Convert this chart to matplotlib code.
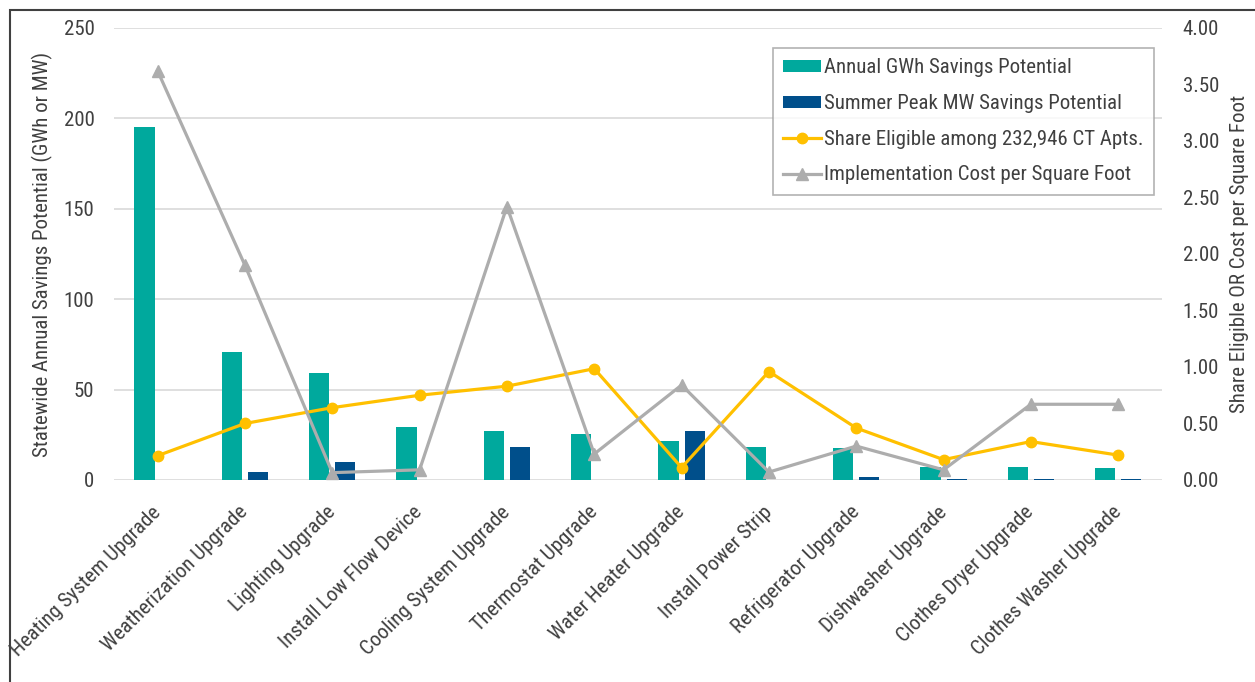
import numpy as np
import matplotlib
matplotlib.use("Agg")
import matplotlib.pyplot as plt
from matplotlib.patches import Rectangle

plt.rcParams['font.family'] = ['Roboto Condensed', 'Liberation Sans', 'DejaVu Sans']

# Measures and their savings / eligibility / cost figures
measures = ["Heating System Upgrade", "Weatherization Upgrade", "Lighting Upgrade",
            "Install Low Flow Device", "Cooling System Upgrade", "Thermostat Upgrade",
            "Water Heater Upgrade", "Install Power Strip", "Refrigerator Upgrade",
            "Dishwasher Upgrade", "Clothes Dryer Upgrade", "Clothes Washer Upgrade"]
annual_gwh = [195, 71, 59, 29.5, 27, 25.5, 21.7, 18, 17.5, 7.3, 7.4, 6.5]
summer_mw = [0, 4.3, 10, 0, 18, 0, 27, 0, 1.8, 0.3, 0.3, 0.3]
share_eligible = [0.215, 0.50, 0.64, 0.75, 0.83, 0.985, 0.11, 0.96, 0.46, 0.18, 0.34, 0.22]
cost_per_sqft = [3.62, 1.90, 0.065, 0.09, 2.42, 0.23, 0.84, 0.07, 0.30, 0.09, 0.67, 0.67]

teal = "#00A99D"
navy = "#004F8B"
gold = "#FFC000"
grey = "#ADADAD"
text_col = "#404040"

fig = plt.figure(figsize=(12.55, 6.82), dpi=100)
ax = fig.add_axes([0.0908, 0.2962, 0.835, 0.6628])
ax2 = ax.twinx()

x = np.arange(len(measures))
w = 0.23
ax.bar(x - 0.035 - w / 2, annual_gwh, w, color=teal, label="Annual GWh Savings Potential", zorder=2)
ax.bar(x + 0.035 + w / 2, summer_mw, w, color=navy, label="Summer Peak MW Savings Potential", zorder=2)

ax2.plot(x, share_eligible, color=gold, lw=2.3, marker="o", ms=7.5,
         label="Share Eligible among 232,946 CT Apts.")
ax2.plot(x, cost_per_sqft, color=grey, lw=2.3, marker="^", ms=8,
         label="Implementation Cost per Square Foot")

# left axis
ax.set_xlim(-0.5, len(measures) - 0.5)
ax.set_ylim(0, 250)
ax.set_yticks(np.arange(0, 251, 50))
ax.grid(axis="y", color="#D9D9D9", lw=1.2, zorder=0)
ax.set_axisbelow(True)
ax.set_ylabel("Statewide Annual Savings Potential (GWh or MW)", fontsize=15,
              color=text_col, labelpad=8)

# right axis
ax2.set_ylim(0, 4)
ax2.set_yticks(np.arange(0, 4.01, 0.5))
ax2.set_yticklabels([f"{v:.2f}" for v in np.arange(0, 4.01, 0.5)])
ax2.set_ylabel("Share Eligible OR Cost per Square Foot", fontsize=15,
               color=text_col, labelpad=8)

for a in (ax, ax2):
    for s in a.spines.values():
        s.set_visible(False)
    a.tick_params(length=0, labelsize=15, colors=text_col)
ax.tick_params(axis="y", pad=14)
ax2.tick_params(axis="y", pad=15)

# category labels, slanted
ax.set_xticks(x, measures, rotation=45, ha="right", va="center", rotation_mode="anchor")
ax.tick_params(axis="x", pad=21)

# legend
h1, l1 = ax.get_legend_handles_labels()
h2, l2 = ax2.get_legend_handles_labels()
leg = ax2.legend(h1 + h2, l1 + l2, loc="upper left",
                 bbox_to_anchor=(773 / 1255, 1 - 48 / 682), bbox_transform=fig.transFigure,
                 fontsize=15, frameon=True, fancybox=False, edgecolor="#A0A0A0",
                 handlelength=1.8, handleheight=0.5, handletextpad=0.15,
                 labelspacing=0.8, borderpad=0.5, borderaxespad=0)
leg.get_frame().set_linewidth(1.2)
for t in leg.get_texts():
    t.set_color(text_col)

# outer frame
fig.patches.append(Rectangle((10 / 1255, -0.1), 1.2, 1.1 - 10 / 682, transform=fig.transFigure,
                             fill=False, edgecolor="#404040", lw=1.5))

fig.savefig("out.png", dpi=100)
